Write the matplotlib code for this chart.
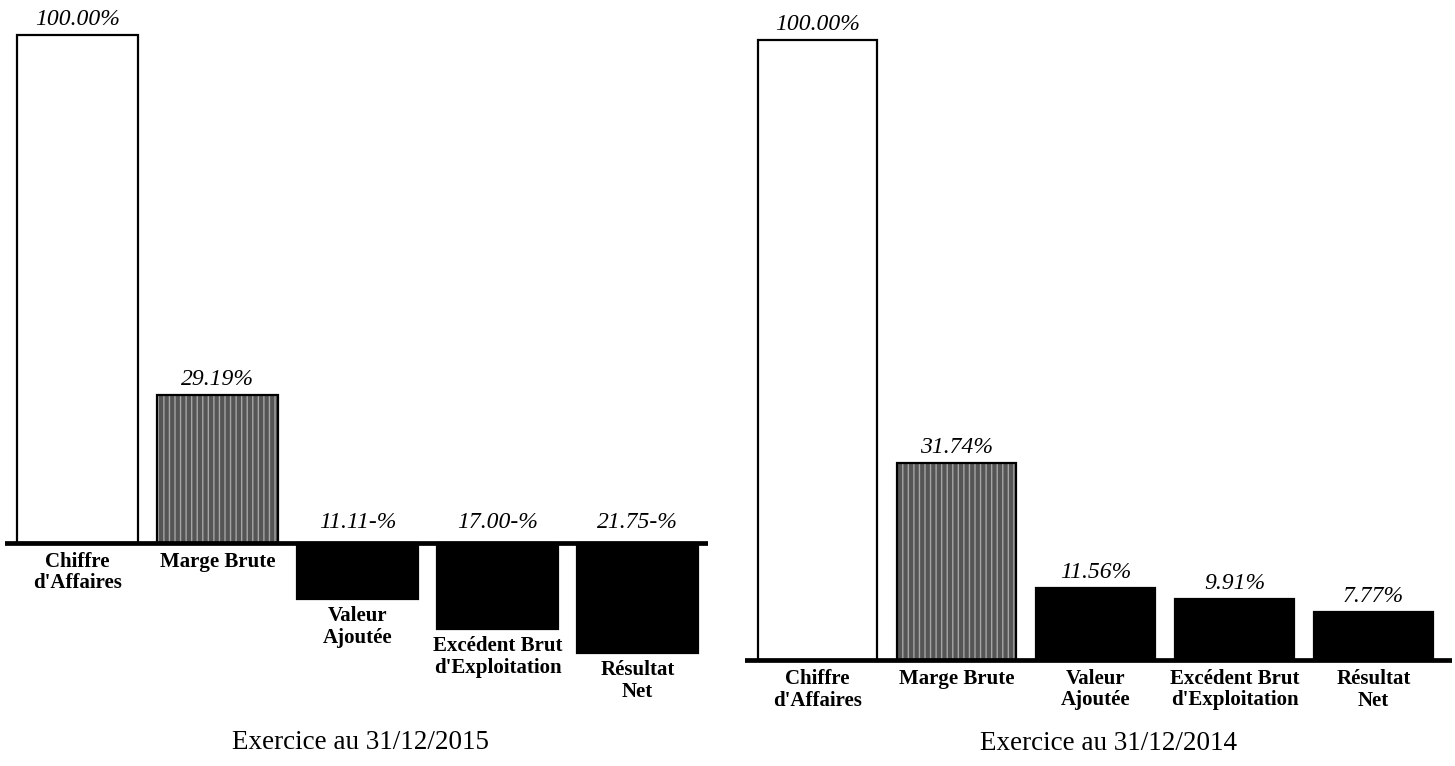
import matplotlib
matplotlib.use("Agg")
import matplotlib.pyplot as plt

plt.rcParams['font.family'] = ['Liberation Serif', 'DejaVu Serif']

# données
categories = ["Chiffre\nd'Affaires", "Marge Brute", "Valeur\nAjoutée",
              "Excédent Brut\nd'Exploitation", "Résultat\nNet"]
values_2015 = [100.00, 29.19, -11.11, -17.00, -21.75]
values_2014 = [100.00, 31.74, 11.56, 9.91, 7.77]
title_2015 = "Exercice au 31/12/2015"
title_2014 = "Exercice au 31/12/2014"

W, H = 1455, 766
fig = plt.figure(figsize=(W / 100, H / 100), dpi=100)
fig.patch.set_facecolor('white')

PX = 0.72  # pixels -> points


def fmt(v):
    if v < 0:
        return f"{abs(v):.2f}-%"
    return f"{v:.2f}%"


def panel(rect_px, values, xlim, ylim, title, title_xy):
    x0, y0, x1, y1 = rect_px
    ax = fig.add_axes([x0 / W, 1 - y1 / H, (x1 - x0) / W, (y1 - y0) / H])
    ax.set_xlim(*xlim)
    ax.set_ylim(*ylim)
    ax.axis('off')
    xs = list(range(len(values)))
    w = 0.86
    faces = ['white', 'none', 'black', 'black', 'black']
    # barre grise tramée (Marge Brute)
    ax.bar(xs[1], values[1], width=w, color='#555555', hatch='|||',
           edgecolor='#a5a5a5', linewidth=0, zorder=2)
    ax.bar(xs, values, width=w, color=faces,
           edgecolor='black', linewidth=1.6, zorder=3)
    ax.axhline(0, color='black', linewidth=3.4, zorder=4)

    for x, v, c in zip(xs, values, categories):
        if v >= 0:
            ax.annotate(fmt(v), (x, v), xytext=(0, 5 * PX), textcoords='offset points',
                        ha='center', va='bottom', fontsize=17, style='italic')
            ax.annotate(c, (x, 0), xytext=(0, -9 * PX), textcoords='offset points',
                        ha='center', va='top', fontsize=15, fontweight='bold',
                        linespacing=1.1)
        else:
            ax.annotate(fmt(v), (x, 0), xytext=(0, 10 * PX), textcoords='offset points',
                        ha='center', va='bottom', fontsize=17, style='italic')
            ax.annotate(c, (x, v), xytext=(0, -7 * PX), textcoords='offset points',
                        ha='center', va='top', fontsize=15, fontweight='bold',
                        linespacing=1.1)

    fig.text(title_xy[0] / W, 1 - title_xy[1] / H, title, ha='center',
             va='baseline', fontsize=19.5)
    return ax


# 2015 : ligne de base à y=543 px, 100 % à y=35 px
s15 = (543 - 35) / 100
panel((5, 0, 708, 700), values_2015,
      ((5 - 77.5) / 140, (708 - 77.5) / 140),
      (-(700 - 543) / s15, 543 / s15),
      title_2015, (360, 749))

# 2014 : ligne de base à y=660 px, 100 % à y=40 px
s14 = (660 - 40) / 100
panel((745, 0, 1452, 700), values_2014,
      ((745 - 817.5) / 139, (1452 - 817.5) / 139),
      (-(700 - 660) / s14, 660 / s14),
      title_2014, (1108, 750))

fig.savefig('out.png', dpi=100, facecolor='white')
